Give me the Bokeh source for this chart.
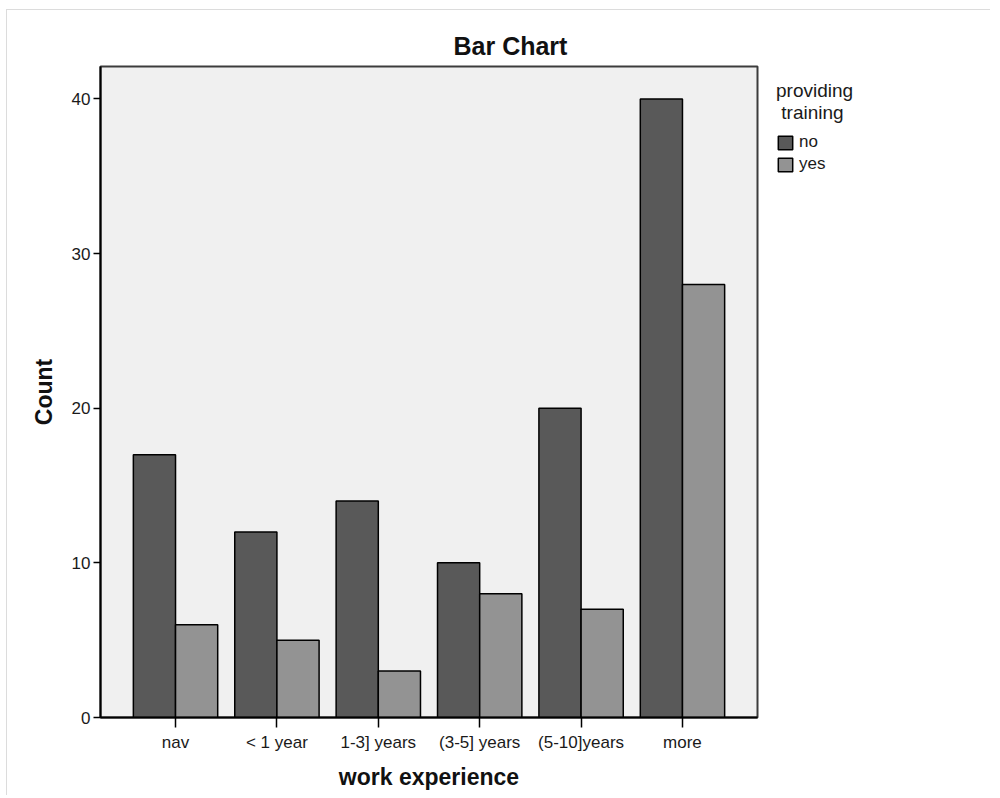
from bokeh.plotting import figure
from bokeh.layouts import row
from bokeh.models import (ColumnDataSource, FactorRange, Range1d, SingleIntervalTicker,
                          Legend, LegendItem, Title)
from bokeh.transform import dodge
from bokeh.embed import file_html
from bokeh.resources import INLINE

# ---- data ----
categories = ["nav", "< 1 year", "1-3] years", "(3-5] years", "(5-10]years", "more"]
no_counts = [17, 12, 14, 10, 20, 40]
yes_counts = [6, 5, 3, 8, 7, 28]
series_names = ["no", "yes"]
legend_title = "providing\n training"
y_ticks_interval = 10

FONT = "Liberation Sans"
DARK = "#595959"
LIGHT = "#939393"
BORDER = "1px solid #dcdcdc"

src = ColumnDataSource(dict(cat=categories, no=no_counts, yes=yes_counts))

# ---------------- main chart ----------------
p = figure(
    width=756, height=786,
    x_range=FactorRange(*categories, range_padding=0.24, range_padding_units="absolute"),
    y_range=Range1d(0, 42.1),
    output_backend="svg", toolbar_location=None,
    min_border_left=93, min_border_right=6, min_border_top=56, min_border_bottom=79,
)
p.styles = {"border-left": BORDER, "border-top": BORDER,
            "margin-left": "6px", "margin-top": "9px"}

p.background_fill_color = "#f0f0f0"
p.border_fill_color = "white"
p.outline_line_color = "#3c3c3c"
p.outline_line_width = 2
p.xgrid.visible = False
p.ygrid.visible = False

bw = 0.416
p.vbar(x=dodge("cat", -bw / 2, range=p.x_range), top="no", width=bw, source=src,
       fill_color=DARK, line_color="black", line_width=1.5)
p.vbar(x=dodge("cat", bw / 2, range=p.x_range), top="yes", width=bw, source=src,
       fill_color=LIGHT, line_color="black", line_width=1.5)

p.add_layout(Title(text="Bar Chart", align="left", offset=353, text_font=FONT,
                   text_font_size="25px", text_font_style="bold", text_color="#111111",
                   standoff=14), "above")

for ax in (p.xaxis[0], p.yaxis[0]):
    ax.axis_line_color = "black"
    ax.axis_line_width = 2
    ax.major_tick_line_color = "black"
    ax.major_tick_line_width = 1.5
    ax.major_tick_in = 0
    ax.minor_tick_line_color = None
    ax.major_label_text_font = FONT
    ax.major_label_text_font_size = "17px"
    ax.major_label_text_color = "#1a1a1a"
    ax.axis_label_text_font = FONT
    ax.axis_label_text_font_size = "23px"
    ax.axis_label_text_font_style = "bold"
    ax.axis_label_text_color = "#111111"

p.yaxis.ticker = SingleIntervalTicker(interval=y_ticks_interval, num_minor_ticks=0)
p.yaxis.major_tick_out = 7
p.yaxis.major_label_standoff = 3
p.yaxis.axis_label = "Count"
p.yaxis.axis_label_standoff = 12

p.xaxis.major_tick_out = 10
p.xaxis.major_label_standoff = 5
p.xaxis.axis_label = "work experience"
p.xaxis.axis_label_standoff = 9

# ---------------- legend panel ----------------
q = figure(
    width=228, height=786,
    x_range=FactorRange(*categories), y_range=Range1d(-2, -1),
    output_backend="svg", toolbar_location=None,
    x_axis_location=None, y_axis_location=None,
    min_border_left=0, min_border_right=0, min_border_top=56, min_border_bottom=0,
)
q.styles = {"border-top": BORDER, "margin-top": "9px"}
q.outline_line_color = None
q.background_fill_color = "white"
q.border_fill_color = "white"
q.xgrid.visible = False
q.ygrid.visible = False
# hidden swatch renderers that only feed the legend
lg_no = q.vbar(x="cat", top="no", width=bw, source=src,
               fill_color=DARK, line_color="black", line_width=1.5, visible=False)
lg_yes = q.vbar(x="cat", top="yes", width=bw, source=src,
                fill_color=LIGHT, line_color="black", line_width=1.5, visible=False)

legend = Legend(
    items=[LegendItem(label=series_names[0], renderers=[lg_no]),
           LegendItem(label=series_names[1], renderers=[lg_yes])],
    title=legend_title,
    title_text_font=FONT, title_text_font_size="19px", title_text_font_style="normal",
    title_text_color="#1a1a1a", title_standoff=8,
    location="top_left",
    border_line_color=None, background_fill_alpha=0,
    inactive_fill_alpha=0,
    padding=0, margin=14, spacing=2,
    glyph_width=18, glyph_height=17, label_height=17, label_standoff=5,
    label_text_font=FONT, label_text_font_size="17px", label_text_color="#1a1a1a",
)
q.add_layout(legend, "center")

layout = row(p, q)

html = file_html(layout, INLINE)
open("out.html", "w").write(html)
